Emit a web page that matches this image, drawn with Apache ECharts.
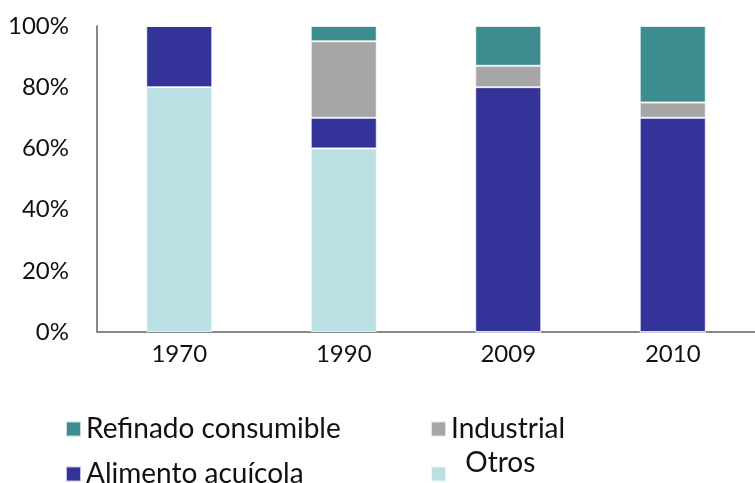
<!DOCTYPE html>
<html><head><meta charset="utf-8">
<script src="https://cdn.jsdelivr.net/npm/echarts@6/dist/echarts.min.js"></script>
<style>html,body{margin:0;padding:0;background:#fff}#c{width:755px;height:483px}</style>
</head><body><div id="c"></div>
<script>
const categories = ['1970', '1990', '2009', '2010'];
const otros = [80, 60, 0, 0];
const alimento = [20, 10, 80, 70];
const industrial = [0, 25, 7, 5];
const refinado = [0, 5, 13, 25];
const yTicks = [0, 20, 40, 60, 80, 100];

const font = 'Lato';
const chart = echarts.init(document.getElementById('c'));
const itemStyle = (c) => ({ color: c, borderColor: 'rgba(255,255,255,0.7)', borderWidth: 1 });
const legendBase = { orient: 'horizontal', itemWidth: 15, itemHeight: 15, itemGap: 6, icon: 'rect',
  textStyle: { fontFamily: font, fontSize: 28, color: '#111' } };
chart.setOption({
  animation: false,
  grid: { left: 97, right: -4, top: 26, bottom: 151 },
  xAxis: { type: 'category', data: categories,
    axisLine: { lineStyle: { color: '#888', width: 2 } }, axisTick: { show: false },
    axisLabel: { fontFamily: font, fontSize: 24, color: '#111', margin: 10 } },
  yAxis: { type: 'value', min: 0, max: 100, interval: 20,
    axisLine: { show: true, lineStyle: { color: '#888', width: 2 } }, axisTick: { show: false },
    splitLine: { show: false },
    axisLabel: { fontFamily: font, fontSize: 24, color: '#111', margin: 28,
      formatter: v => yTicks.includes(v) ? v + '%' : '' } },
  legend: [
    Object.assign({}, legendBase, { left: 60, top: 410, data: ['Refinado consumible'] }),
    Object.assign({}, legendBase, { left: 425, top: 410, data: ['Industrial'] }),
    Object.assign({}, legendBase, { left: 60, top: 455, data: ['Alimento acuícola'] }),
    Object.assign({}, legendBase, { left: 425, top: 444, data: ['Otros'],
      formatter: '{o|  {name}}',
      textStyle: { fontFamily: font, fontSize: 28, color: '#111',
        rich: { o: { fontFamily: font, fontSize: 28, color: '#111', padding: [0, 0, 22, 0] } } } })
  ],
  series: [
    { name: 'Otros', type: 'bar', stack: 's', data: otros, barWidth: 66, itemStyle: itemStyle('#bae0e3') },
    { name: 'Alimento acuícola', type: 'bar', stack: 's', data: alimento, itemStyle: itemStyle('#333399') },
    { name: 'Industrial', type: 'bar', stack: 's', data: industrial, itemStyle: itemStyle('#a6a6a6') },
    { name: 'Refinado consumible', type: 'bar', stack: 's', data: refinado, itemStyle: itemStyle('#3d8c90') }
  ]
});
</script></body></html>
